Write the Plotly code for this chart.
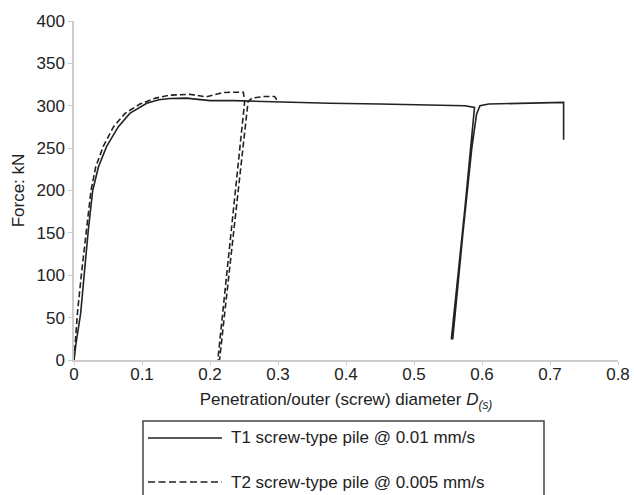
import plotly.graph_objects as go

# T1 screw-type pile @ 0.01 mm/s (solid)
t1_x = [0, 0.003, 0.0098, 0.0147, 0.021, 0.0275, 0.036, 0.048, 0.065, 0.082, 0.107, 0.125, 0.141,
        0.165, 0.185, 0.2, 0.235, 0.3, 0.376, 0.45, 0.52, 0.575, 0.589,
        0.575, 0.555,
        0.557, 0.572, 0.585, 0.592, 0.597, 0.61, 0.66, 0.7, 0.72, 0.72]
t1_y = [0, 20, 55, 102, 153, 200, 228, 252, 275, 291, 303, 307, 308.5,
        309, 307.5, 306, 306, 304.5, 303, 302, 301, 300, 298,
        180, 25,
        25, 150, 250, 290, 300, 302, 303, 303.5, 304, 260]

# T2 screw-type pile @ 0.005 mm/s (dashed)
t2_x = [0, 0.005, 0.011, 0.0186, 0.025, 0.032, 0.043, 0.058, 0.075, 0.097, 0.12, 0.141, 0.17,
        0.194, 0.219, 0.234, 0.249, 0.251,
        0.2115,
        0.214, 0.256, 0.262, 0.28, 0.295, 0.299]
t2_y = [0, 55, 102, 153, 200, 228, 252, 275, 291, 302, 309, 312.5, 313.5,
        310.5, 315.5, 316, 316, 305,
        0,
        0, 305, 309, 311, 311, 306]

x_ticks = [0, 0.1, 0.2, 0.3, 0.4, 0.5, 0.6, 0.7, 0.8]
x_tick_labels = ["0", "0.1", "0.2", "0.3", "0.4", "0.5", "0.6", "0.7", "0.8"]
y_ticks = [0, 50, 100, 150, 200, 250, 300, 350, 400]
legend_names = ["T1 screw-type pile @ 0.01 mm/s", "T2 screw-type pile @ 0.005 mm/s"]

FONT = "Liberation Sans, Arial, sans-serif"
FS = 17
LINE = "#222222"
AX = "#cccccc"

fig = go.Figure()
fig.add_trace(go.Scatter(x=t1_x, y=t1_y, mode="lines", name=legend_names[0],
                         line=dict(color=LINE, width=1.6), showlegend=False))
fig.add_trace(go.Scatter(x=t2_x, y=t2_y, mode="lines", name=legend_names[1],
                         line=dict(color=LINE, width=1.6, dash="6px,3px"), showlegend=False))

W, H = 634, 495
L, R, T, B = 74, 16, 21, 135
pw, ph = W - L - R, H - T - B

def px(xp):
    return (xp - L) / pw

def py(yp):
    return (H - B - yp) / ph

# manual legend box
shapes = [
    dict(type="rect", xref="paper", yref="paper", x0=px(143), x1=px(544), y0=py(421), y1=py(530),
         line=dict(color="#444444", width=1.5), fillcolor="rgba(0,0,0,0)", layer="above"),
    dict(type="line", xref="paper", yref="paper", x0=px(148), x1=px(222), y0=py(438), y1=py(438),
         line=dict(color=LINE, width=1.6)),
    dict(type="line", xref="paper", yref="paper", x0=px(148), x1=px(222), y0=py(482), y1=py(482),
         line=dict(color=LINE, width=1.6, dash="7px,3.5px")),
]
annotations = [
    dict(xref="paper", yref="paper", x=px(229), y=py(438), text=legend_names[0], showarrow=False,
         xanchor="left", yanchor="middle", font=dict(family=FONT, size=FS, color="#222222")),
    dict(xref="paper", yref="paper", x=px(229), y=py(482), text=legend_names[1], showarrow=False,
         xanchor="left", yanchor="middle", font=dict(family=FONT, size=FS, color="#222222")),
]

fig.update_layout(
    width=W, height=H,
    margin=dict(l=L, r=R, t=T, b=B, autoexpand=False),
    paper_bgcolor="white", plot_bgcolor="white",
    font=dict(family=FONT, size=FS, color="#222222"),
    shapes=shapes, annotations=annotations,
    showlegend=False,
)
fig.update_xaxes(range=[0, 0.8], tickvals=x_ticks, ticktext=x_tick_labels,
                 showgrid=False, zeroline=False, showline=True, linecolor=AX, linewidth=1.5,
                 ticks="outside", ticklen=3, tickcolor=AX, tickfont=dict(size=FS),
                 ticklabelstandoff=-5,
                 title=dict(text="Penetration/outer (screw) diameter <i>D</i><sub><i>(s)</i></sub>",
                            font=dict(size=FS), standoff=10))
fig.update_yaxes(range=[0, 400], tickvals=y_ticks,
                 showgrid=False, zeroline=False, showline=True, linecolor=AX, linewidth=1.5,
                 ticks="outside", ticklen=4, tickcolor=AX, tickfont=dict(size=FS),
                 title=dict(text="Force: kN", font=dict(size=FS), standoff=8))

fig.write_html("out.html")
